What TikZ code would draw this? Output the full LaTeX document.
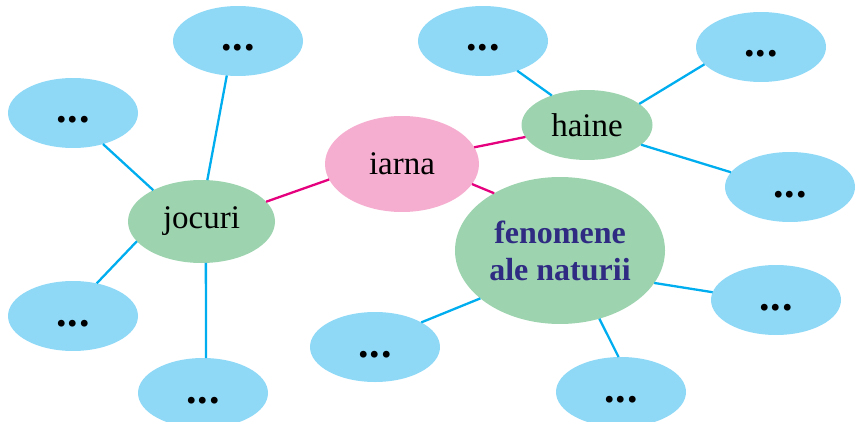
\documentclass[tikz,border=0pt]{standalone}
\usepackage{fontspec}
\setmainfont{Liberation Serif}
\usetikzlibrary{shapes.geometric}
\definecolor{iarnapink}{HTML}{F5AECF}
\definecolor{topicgreen}{HTML}{9DD4AF}
\definecolor{blankblue}{HTML}{8FD9F7}
\definecolor{linkpink}{HTML}{E5007E}
\definecolor{linkblue}{HTML}{00AEEF}
\definecolor{titleindigo}{HTML}{2F2A82}
\tikzset{
  idea/.style={ellipse, inner sep=0pt, outer sep=0pt, font=\fontsize{33}{37}\selectfont},
  mainidea/.style={idea, fill=iarnapink, minimum width=154pt, minimum height=96pt},
  topic/.style={idea, fill=topicgreen},
  blank/.style={idea, fill=blankblue, minimum width=130pt, minimum height=70pt,
    font=\fontsize{42}{42}\selectfont\bfseries, text height=20pt, text depth=0pt},
  pinkline/.style={draw=linkpink, line width=2.3pt},
  blueline/.style={draw=linkblue, line width=2.3pt},
}
\newcommand{\blankdots}{.\kern1pt.\kern1pt.}
\begin{document}
\begin{tikzpicture}[x=1pt,y=-1pt]
\useasboundingbox (0,0) rectangle (858,422);
% centre and topics
\node[mainidea] (iarna) at (402,164) {iarna};
\node[topic, minimum width=147pt, minimum height=83pt] (jocuri) at (201.5,221.5) {jocuri};
\node[topic, minimum width=131pt, minimum height=70pt] (haine) at (587,125) {haine};
\node[topic, minimum width=210pt, minimum height=147pt, align=center,
  text=titleindigo, font=\fontsize{32}{37}\selectfont\bfseries] (fenomene) at (560,250.5) {fenomene\\ale naturii};
% blanks
\node[blank] (joc1) at (238,41) {\blankdots};
\node[blank] (joc2) at (73,113) {\blankdots};
\node[blank] (joc3) at (73,316) {\blankdots};
\node[blank] (joc4) at (203,393) {\blankdots};
\node[blank] (haine1) at (483,41) {\blankdots};
\node[blank] (haine2) at (761,47) {\blankdots};
\node[blank] (haine3) at (790,187) {\blankdots};
\node[blank] (fen1) at (375,347) {\blankdots};
\node[blank] (fen2) at (776,300) {\blankdots};
\node[blank] (fen3) at (621,392) {\blankdots};
% links
\draw[pinkline] (iarna.192.9) -- (jocuri.17.1);
\draw[pinkline] (iarna.13.1) -- (haine.191.1);
\draw[pinkline] (iarna.344.1) -- (fenomene.139.4);
\draw[blueline] (jocuri.82.3) -- (joc1.252.1);
\draw[blueline] (jocuri.147.3) -- (joc2.314.1);
\draw[blueline] (jocuri.197.6) -- (joc3.54);
\draw[blueline] (jocuri.276.2) -- (joc4.85.1);
\draw[blueline] (haine.140.4) -- (haine1.319.4);
\draw[blueline] (haine.22.9) -- (haine2.197.8);
\draw[blueline] (haine.340.9) -- (haine3.166.9);
\draw[blueline] (fenomene.211.5) -- (fen1.28.5);
\draw[blueline] (fenomene.341.1) -- (fen2.173.7);
\draw[blueline] (fenomene.300) -- (fen3.94.9);
\end{tikzpicture}
\end{document}
